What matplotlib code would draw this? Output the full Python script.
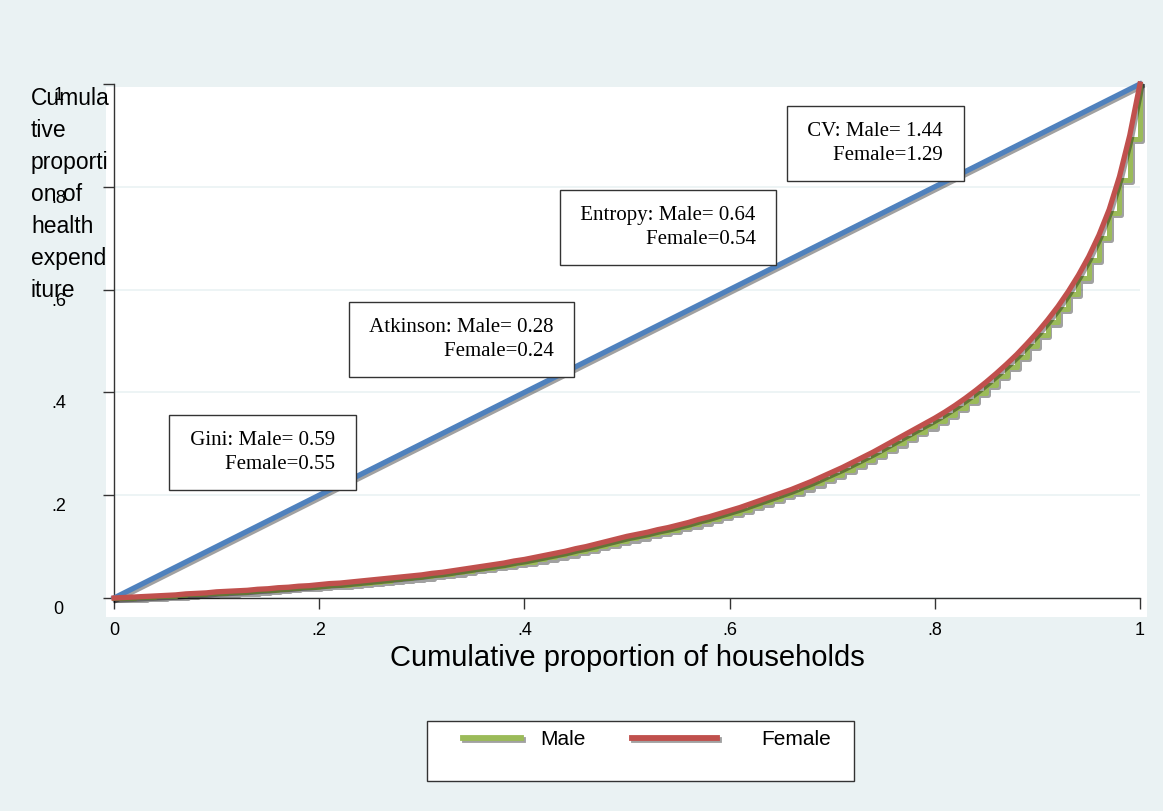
import matplotlib
matplotlib.use("Agg")
import matplotlib.pyplot as plt
import matplotlib.patheffects as pe
import matplotlib.transforms as mtransforms
from matplotlib.patches import Rectangle

### data
pop_share = [i / 100 for i in range(101)]

female = [0.000, 0.001, 0.002, 0.003, 0.004, 0.005, 0.006, 0.008, 0.009, 0.010,
          0.012, 0.013, 0.014, 0.015, 0.017, 0.018, 0.020, 0.021, 0.023, 0.024,
          0.026, 0.028, 0.029, 0.031, 0.033, 0.035, 0.037, 0.039, 0.041, 0.043,
          0.045, 0.048, 0.050, 0.053, 0.056, 0.059, 0.062, 0.065, 0.068, 0.072,
          0.075, 0.079, 0.083, 0.087, 0.091, 0.096, 0.100, 0.105, 0.110, 0.115,
          0.120, 0.124, 0.128, 0.133, 0.137, 0.142, 0.147, 0.153, 0.158, 0.164,
          0.170, 0.176, 0.183, 0.190, 0.197, 0.204, 0.211, 0.219, 0.227, 0.236,
          0.245, 0.254, 0.264, 0.274, 0.284, 0.295, 0.306, 0.317, 0.328, 0.339,
          0.350, 0.362, 0.375, 0.389, 0.404, 0.420, 0.437, 0.455, 0.474, 0.495,
          0.517, 0.541, 0.567, 0.596, 0.628, 0.664, 0.706, 0.756, 0.820, 0.900,
          1.000]

male = [0.000, 0.000, 0.001, 0.002, 0.003, 0.004, 0.005, 0.007, 0.008, 0.009,
        0.010, 0.011, 0.012, 0.013, 0.015, 0.016, 0.018, 0.019, 0.021, 0.022,
        0.023, 0.025, 0.026, 0.028, 0.030, 0.032, 0.034, 0.036, 0.038, 0.040,
        0.042, 0.045, 0.047, 0.050, 0.053, 0.056, 0.059, 0.062, 0.065, 0.069,
        0.071, 0.075, 0.079, 0.083, 0.087, 0.092, 0.096, 0.101, 0.106, 0.111,
        0.116, 0.120, 0.124, 0.129, 0.133, 0.138, 0.143, 0.149, 0.154, 0.160,
        0.166, 0.172, 0.179, 0.186, 0.193, 0.200, 0.207, 0.215, 0.223, 0.232,
        0.240, 0.249, 0.259, 0.269, 0.279, 0.290, 0.301, 0.312, 0.323, 0.334,
        0.345, 0.357, 0.370, 0.384, 0.399, 0.415, 0.432, 0.450, 0.469, 0.490,
        0.512, 0.536, 0.562, 0.591, 0.622, 0.658, 0.700, 0.750, 0.814, 0.893,
        1.000]

equality_x = [0, 1]
equality_y = [0, 1]

ticks = [0, 0.2, 0.4, 0.6, 0.8, 1]
tick_labels = ["0", ".2", ".4", ".6", ".8", "1"]

# inequality indices shown in the boxes
index_names = ["Gini", "Atkinson", "Entropy", "CV"]
index_male = ["0.59", "0.28", "0.64", "1.44"]
index_female = ["0.55", "0.24", "0.54", "1.29"]
box_x = [0.145, 0.339, 0.540, 0.742]
box_y = [0.283, 0.503, 0.721, 0.884]

bg = "#EAF2F3"
c_eq = "#4F81BD"
c_male = "#9BBB59"
c_female = "#C0504D"

W, H = 1163, 811
fig = plt.figure(figsize=(W / 100, H / 100), dpi=100, facecolor=bg)
# white plot region
fig.add_artist(Rectangle((106 / W, 1 - 617 / H), (1147 - 106) / W, (617 - 87) / H,
                         transform=fig.transFigure, facecolor="white",
                         edgecolor="none", zorder=0))
# legend frame (Stata leaves an empty second row)
fig.add_artist(Rectangle((427 / W, 1 - 781 / H), (854 - 427) / W, 60 / H,
                         transform=fig.transFigure, facecolor="white",
                         edgecolor="#333333", lw=1.0, zorder=1))

ax = fig.add_axes([114 / W, 1 - 598 / H, 1026 / W, 514 / H])
ax.set_facecolor("none")

shadow = [pe.SimpleLineShadow(offset=(1.3, -1.6), shadow_color="k", alpha=0.37),
          pe.Normal()]

ax.plot(equality_x, equality_y, color=c_eq, lw=3.8, clip_on=False,
        path_effects=shadow, zorder=3)
l_male, = ax.plot(pop_share, male, color=c_male, lw=3.6, drawstyle="steps-post",
                  clip_on=False, path_effects=shadow, zorder=3)
l_female, = ax.plot(pop_share, female, color=c_female, lw=3.8, clip_on=False,
                    path_effects=shadow, zorder=4)

ax.set_xlim(0, 1)
ax.set_ylim(0, 1)
for s in ["top", "right"]:
    ax.spines[s].set_visible(False)
for s in ["left", "bottom"]:
    ax.spines[s].set_color("#333333")
    ax.spines[s].set_linewidth(1.0)

ax.set_xticks(ticks, labels=tick_labels)
ax.set_yticks(ticks, labels=tick_labels)
ax.tick_params(axis="both", direction="out", length=8, width=1.0, color="#333333",
               labelsize=13)
ax.tick_params(axis="x", pad=9)
ax.tick_params(axis="y", pad=32)
down = mtransforms.ScaledTranslation(0, -0.03, fig.dpi_scale_trans)
for lab in ax.get_yticklabels():
    lab.set_ha("center")
    lab.set_va("top")
    lab.set_transform(lab.get_transform() + down)
for lab in ax.get_xticklabels() + ax.get_yticklabels():
    lab.set_family("Liberation Sans")

ax.yaxis.grid(True, color=bg, lw=1.2)
ax.set_axisbelow(True)

ax.set_xlabel("Cumulative proportion of households", fontsize=21,
              family="Liberation Sans", labelpad=4)
ax.set_ylabel("Cumula\ntive\nproporti\non of\nhealth\nexpend\niture", rotation=0,
              ha="left", va="top", fontsize=16.5, family="Liberation Sans",
              linespacing=1.5)
ax.yaxis.set_label_coords(-0.081, 0.995)

for name, m, f, bx, by in zip(index_names, index_male, index_female, box_x, box_y):
    ax.text(bx, by, f" {name}: Male= {m} \nFemale={f} ", ha="center", va="center",
            multialignment="right", fontsize=15, family="Liberation Serif",
            linespacing=1.4, zorder=5,
            bbox=dict(boxstyle="square,pad=0.75", facecolor="white",
                      edgecolor="#333333", lw=1.0))

# Stata gives the two keys different lengths, so one legend per key
leg_font = {"family": "Liberation Sans", "size": 15}
leg_m = fig.legend([l_male], ["Male"], loc="upper left",
                   bbox_to_anchor=(463 / W, 1 - 730 / H), prop=leg_font,
                   frameon=False, handlelength=2.8, handletextpad=0.9,
                   borderpad=0, borderaxespad=0)
leg_f = fig.legend([l_female], ["Female"], loc="upper left",
                   bbox_to_anchor=(632 / W, 1 - 730 / H), prop=leg_font,
                   frameon=False, handlelength=4.1, handletextpad=2.1,
                   borderpad=0, borderaxespad=0)
for lg in (leg_m, leg_f):
    for h in lg.legend_handles:
        h.set_linewidth(4.2)

fig.savefig("out.png", dpi=100, facecolor=bg)
